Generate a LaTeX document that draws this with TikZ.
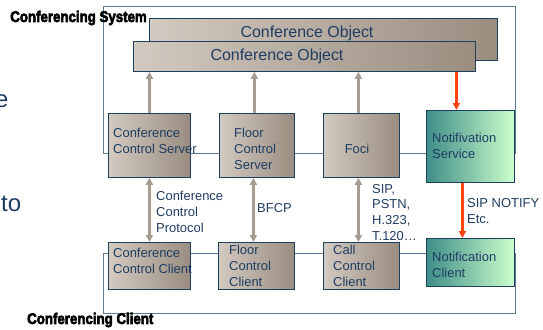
\documentclass[tikz,border=0pt]{standalone}
\usepackage{fontspec}
\setmainfont{Liberation Sans}
\newfontfamily\heavyfont[FakeBold=4]{Liberation Sans Bold}
\usetikzlibrary{arrows.meta}
\definecolor{navy}{HTML}{1F3D63}
\definecolor{edge}{HTML}{1F3F5F}
\definecolor{sysline}{HTML}{5A7A9A}
\definecolor{beigeL}{HTML}{D2C9C0}
\definecolor{beigeR}{HTML}{9A8D80}
\definecolor{tealL}{HTML}{3F8E88}
\definecolor{greenR}{HTML}{CCFFCC}
\definecolor{arrowgray}{HTML}{A89C90}
\definecolor{hotorange}{HTML}{FF4410}
\tikzset{
  box/.style={draw=edge, line width=0.8pt, left color=beigeL, right color=beigeR, inner sep=0pt, anchor=north west},
  nbox/.style={draw=edge, line width=0.8pt, left color=tealL, right color=greenR, inner sep=0pt, anchor=north west},
  outline/.style={draw=sysline, line width=1pt, inner sep=0pt, anchor=north west},
  lbl/.style={font=\fontsize{13}{16}\selectfont, text=navy, align=left, inner sep=0pt, anchor=west},
  biglbl/.style={font=\fontsize{16}{19}\selectfont, text=navy, inner sep=0pt},
  slidetxt/.style={font=\fontsize{24}{28}\selectfont, text=navy, inner sep=0pt},
  title/.style={font=\heavyfont\fontsize{15.5}{17}\selectfont, text=black, inner sep=0pt},
  uparr/.style={draw=arrowgray, line width=2.3pt, -{Triangle[length=7pt,width=7pt]}},
  dblarr/.style={draw=arrowgray, line width=2.3pt, {Triangle[length=7pt,width=7pt]}-{Triangle[length=7pt,width=7pt]}},
  orarr/.style={draw=hotorange, line width=2.2pt, -{Triangle[length=7pt,width=7pt]}}
}
\begin{document}
\begin{tikzpicture}[x=1bp,y=-1bp]
\clip (0,0) rectangle (543,329);
\fill[white] (0,0) rectangle (543,329);
% slide fragments
\node[slidetxt, anchor=east] (fragE) at (8.5,101) {e};
\node[slidetxt, anchor=west] (fragTo) at (1,204) {to};
% outlines
\node[outline, minimum width=412bp, minimum height=147bp] (sys) at (103,6) {};
\node[outline, minimum width=412bp, minimum height=60bp] (cli) at (103,253) {};
% conference objects
\node[box, minimum width=348bp, minimum height=42bp] (co2) at (149,18) {};
\node[biglbl] (co2t) at (307,33) {Conference Object};
\node[box, minimum width=342bp, minimum height=30bp] (co1) at (133,41) {};
\node[biglbl] (co1t) at (277,56) {Conference Object};
% server row
\node[box, minimum width=82bp, minimum height=64bp] (ccs) at (108,113) {};
\node[box, minimum width=75bp, minimum height=64bp] (fcs) at (219,113) {};
\node[box, minimum width=76bp, minimum height=64bp] (foci) at (323,113) {};
\node[nbox, minimum width=88bp, minimum height=72bp] (ns) at (426,110) {};
\node[lbl] (ccst) at (113,141) {Conference\\Control Server};
\node[lbl] (fcst) at (234,149) {Floor\\Control\\Server};
\node[lbl, anchor=center] (focit) at (357,149) {Foci};
\node[lbl] (nst) at (432,146) {Notifivation\\Service};
% client row
\node[box, minimum width=82bp, minimum height=47bp] (ccc) at (108,242) {};
\node[box, minimum width=76bp, minimum height=47bp] (fcc) at (218,242) {};
\node[box, minimum width=76bp, minimum height=47bp] (cacc) at (323,242) {};
\node[nbox, minimum width=88bp, minimum height=48bp] (nc) at (426,238) {};
\node[lbl] (ccct) at (113,261) {Conference\\Control Client};
\node[lbl] (fcct) at (229,266) {Floor\\Control\\Client};
\node[lbl] (cacct) at (333,266) {Call\\Control\\Client};
\node[lbl] (nct) at (432,265) {Notification\\Client};
% arrows up to conference object
\draw[uparr] (ccs.north) -- (ccs.north |- co1.south);
\draw[uparr] ([xshift=-2.5bp]fcs.north) -- ([xshift=-2.5bp]fcs.north |- co1.south);
\draw[uparr] ([xshift=-3bp]foci.north) -- ([xshift=-3bp]foci.north |- co1.south);
\draw[orarr] ([xshift=-14bp]ns.north |- co1.south) -- ([xshift=-14bp]ns.north);
% protocol arrows
\draw[dblarr] (ccs.south) -- (ccc.north);
\draw[dblarr] ([xshift=-3.5bp]fcs.south) -- ([xshift=-3.5bp]fcs.south |- fcc.north);
\draw[dblarr] ([xshift=-3bp]foci.south) -- ([xshift=-3bp]foci.south |- cacc.north);
\draw[orarr] ([xshift=-8bp]ns.south) -- ([xshift=-8bp]ns.south |- nc.north);
% protocol labels
\node[lbl] (cpt) at (156,212) {Conference\\Control\\Protocol};
\node[lbl] (bfcpt) at (257,208) {BFCP};
\node[lbl] (sipt) at (372,212.5) {SIP,\\PSTN,\\H.323,\\T.120…};
\node[lbl] (notifyt) at (467,211) {SIP NOTIFY\\Etc.};
% titles
\node[title, anchor=east] (systitle) at (147,18) {\scalebox{0.86}[1]{Conferencing System}};
\node[title, anchor=west] (clititle) at (27,320) {\scalebox{0.86}[1]{Conferencing Client}};
\end{tikzpicture}
\end{document}
